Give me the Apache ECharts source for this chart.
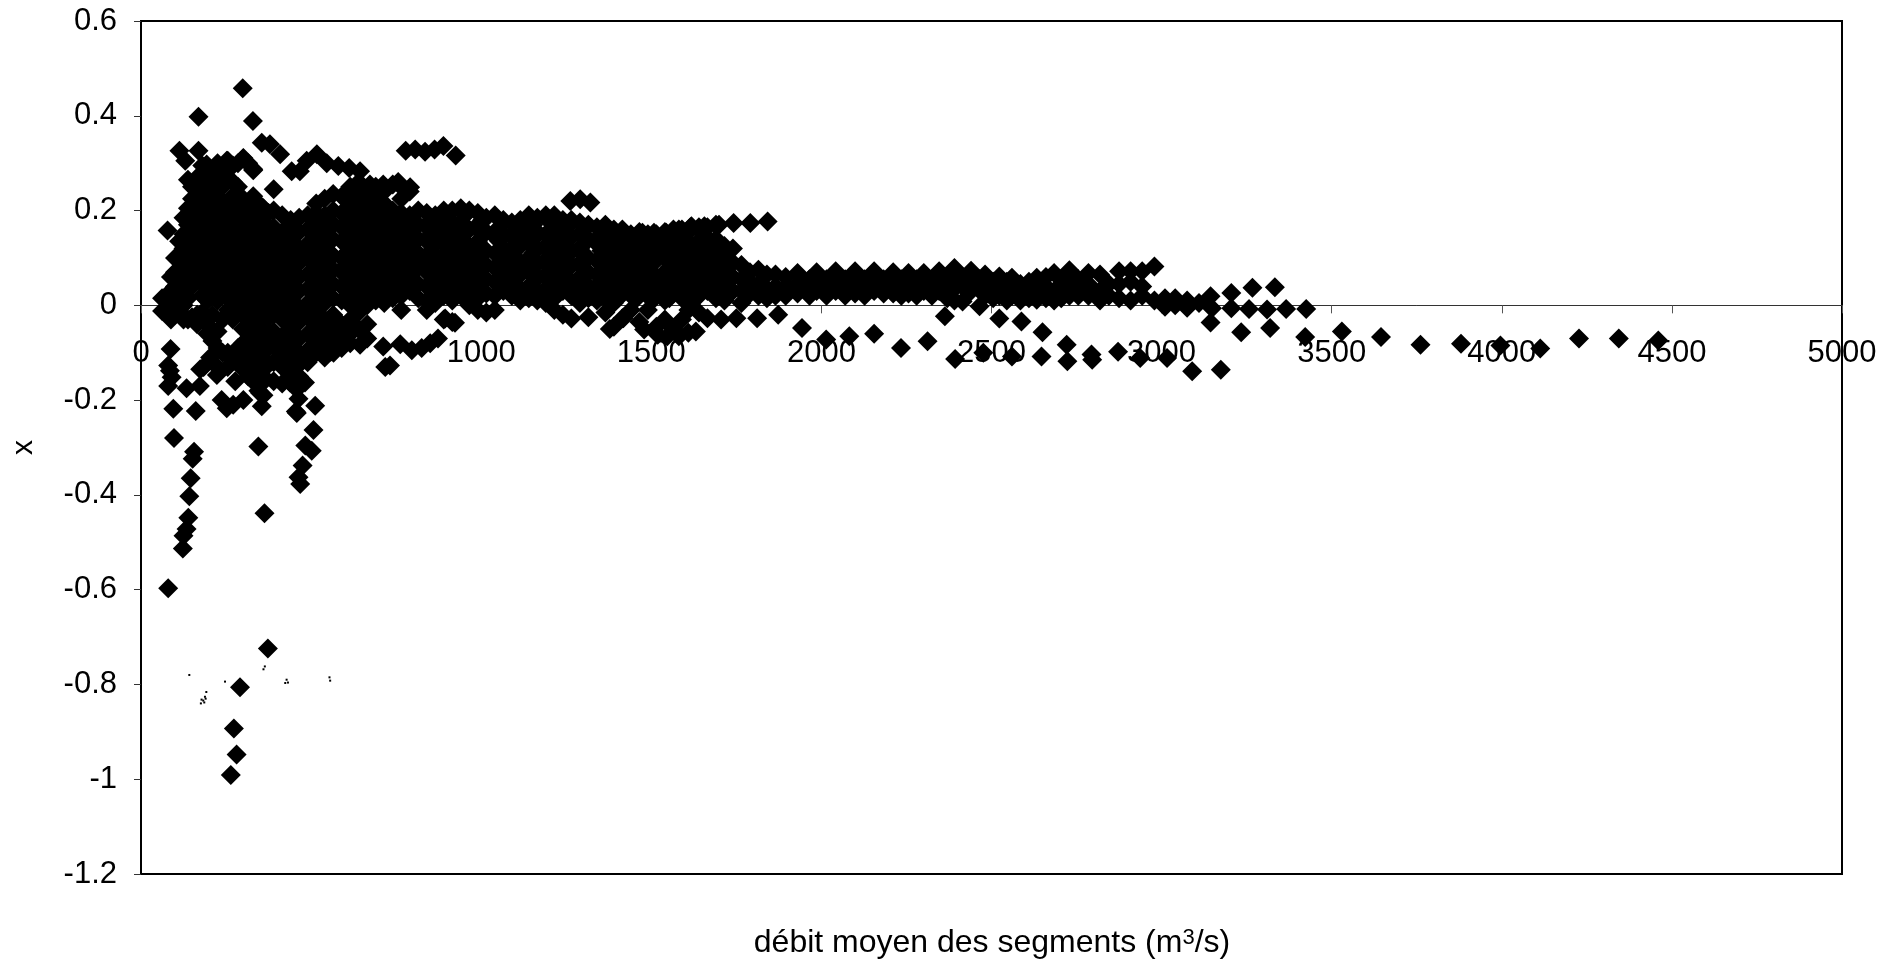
<!DOCTYPE html>
<html><head><meta charset="utf-8">
<style>html,body{margin:0;padding:0;background:#fff}#c{width:1903px;height:964px}</style>
<script src="https://cdn.jsdelivr.net/npm/echarts@6/dist/echarts.min.js"></script>
</head><body><div id="c"></div>
<script>
const xTitle = 'débit moyen des segments';
const yTitle = 'x';
// each row: flow, then the x values read at that flow
const columnsLow = [
[62,.015,-.012],[88,.06,.03,-.005,-.03],[100,.1,.07,.04,.012,-.02],[112,.135,.105,.075,.045,.015,-.015],
[125,.185,.15,.12,.09,.06,.03,0,-.03],[138,.265,.205,.17,.14,.11,.08,.05,.015,-.03],
[150,.25,.225,.19,.16,.13,.1,.065,.04,-.025],[165,.27,.24,.21,.175,.15,.12,.075,.055,-.02,-.04],
[180,.295,.26,.23,.2,.17,.14,.105,.08,.05,.02,-.015],[195,.29,.25,.22,.19,.16,.125,.095,.065,.035,.01,-.04,-.06],
[210,.275,.24,.205,.18,.15,.115,.085,.055,.025,-.02,-.075],[225,.3,.26,.23,.195,.165,.135,.105,.07,.04,.01,-.055,-.09],
[240,.285,.25,.215,.185,.155,.12,.09,.06,.03,-.03,-.1],[255,.305,.27,.2,.17,.14,.11,.08,.05,.02,-.01,-.1,-.13],
[270,.295,.26,.23,.195,.16,.13,.1,.065,.035,.005,-.03,-.115],[285,.3,.25,.215,.185,.15,.12,.09,.06,.03,-.005,-.09,-.12],
[300,.31,.225,.2,.17,.14,.105,.075,.045,.015,-.02,-.05,-.08,-.11,-.135],[315,.3,.21,.185,.155,.125,.09,.06,.03,0,-.03,-.07,-.1,-.15],
[330,.285,.23,.2,.17,.14,.11,.08,.045,.015,-.015,-.045,-.09,-.125,-.16],[345,.215,.185,.155,.125,.095,.065,.03,0,-.03,-.06,-.105,-.14,-.18],
[360,.205,.175,.145,.11,.08,.05,.02,-.01,-.045,-.075,-.115,-.15,-.19],[375,.195,.16,.13,.1,.07,.035,.005,-.025,-.06,-.09,-.125],
[390,.2,.165,.135,.105,.07,.04,.01,-.02,-.055,-.085,-.12,-.16],[415,.19,.155,.125,.09,.06,.03,0,-.03,-.065,-.1,-.13,-.165],
[440,.18,.17,.14,.11,.075,.045,.015,-.015,-.05,-.08,-.115,-.145],[465,.185,.155,.12,.09,.06,.03,-.005,-.035,-.07,-.1,-.125,-.15],
[490,.19,.16,.13,.1,.065,.035,.005,-.025,-.06,-.095,-.12],[515,.195,.215,.175,.145,.115,.08,.05,.02,-.01,-.04,-.075,-.1],
[540,.225,.19,.16,.13,.095,.065,.035,.005,-.03,-.06,-.085,-.11],[565,.235,.2,.17,.14,.105,.075,.045,.015,-.02,-.05,-.075],
[590,.23,.195,.165,.135,.1,.07,.04,.01,-.04,-.065,-.09],[615,.215,.25,.185,.155,.12,.09,.06,.03,0,-.03,-.06,-.08],
[640,.26,.23,.2,.17,.14,.105,.075,.045,.015,-.015,-.05],[665,.24,.21,.18,.15,.12,.09,.055,.025,0,-.04,-.07],
[690,.25,.225,.195,.16,.13,.1,.07,.04,.01],[715,.24,.215,.18,.15,.12,.09,.06,.03,.005],
[740,.255,.2,.165,.135,.105,.075,.045,.015],[765,.25,.225,.195,.17,.14,.11,.08,.05,.02,-.01],
[790,.24,.19,.155,.125,.095,.06,.03]
];
const columnsMid = [
[815,.2,.17,.14,.11,.08,.045,.015],[840,.195,.165,.135,.1,.07,.04,.01,-.01],[865,.19,.16,.13,.095,.06,.03,.005],
[890,.2,.17,.14,.105,.075,.045,.02,-.03],[915,.2,.165,.13,.1,.07,.04,.01,-.035],[940,.205,.175,.145,.11,.08,.05,.02],
[965,.2,.16,.125,.09,.06,.03,0],[990,.195,.17,.135,.105,.075,.045,.015,-.01],[1015,.185,.155,.115,.085,.055,.025,-.015],
[1040,.19,.145,.11,.08,.05,.02,-.01],[1065,.18,.15,.12,.09,.06,.03],[1090,.175,.145,.11,.08,.05,.02],
[1115,.18,.15,.125,.09,.065,.035,.01],[1140,.19,.16,.13,.1,.07,.04,.015],[1165,.185,.155,.12,.09,.06,.03,.01],
[1190,.19,.15,.125,.095,.065,.035,.005],[1215,.19,.16,.13,.1,.07,.04,.015,-.01],[1240,.18,.15,.12,.09,.06,.03,-.02],
[1265,.18,.145,.115,.085,.05,.02,-.028],[1290,.175,.15,.12,.09,.06,.03,.005],[1315,.17,.14,.1,.07,.04,.015,-.025],
[1340,.165,.13,.095,.065,.035,.01],[1365,.17,.14,.11,.075,.045,.015,-.015],[1390,.16,.125,.09,.06,.03,.005,-.045],
[1415,.16,.13,.1,.065,.035,-.027],[1440,.15,.12,.085,.055,.025,-.01],[1465,.155,.125,.09,.06,.03,-.035],
[1490,.15,.11,.08,.05,.02,-.01],[1515,.15,.12,.095,.06,.03,-.045],[1540,.155,.13,.1,.07,.04,.01,-.03],
[1565,.16,.125,.09,.055,.025,-.05],[1590,.16,.135,.105,.075,.045,.015,-.03],[1615,.165,.13,.095,.065,.035,.005],
[1640,.165,.135,.11,.08,.05,.02,-.015],[1665,.165,.125,.09,.06,.03],[1690,.17,.14,.11,.075,.045,.015],
[1715,.125,.1,.07,.04,.01],[1740,.12,.09,.06,.03],[1765,.085,.055,.03,.005],[1790,.07,.05,.025],[1815,.075,.045,.02],
[1840,.065,.035,.015],[1865,.065,.04,.02]
];
const columnsInner = [
[403,.15,.12,.085,.055,.022],[453,.16,.125,.095,.06,.03],[503,.17,.135,.105,.075,.04],[553,.18,.145,.112,.08,.05],
[603,.175,.14,.11,.085,.05],[653,.195,.165,.13,.1,.07],[703,.21,.175,.145,.11,.08,.05],[753,.18,.15,.12,.09,.06,.03],
[803,.175,.14,.11,.075,.045],[853,.18,.15,.115,.085,.05],[903,.185,.15,.12,.09,.06,.028],[953,.19,.155,.125,.095,.065,.035],
[1003,.18,.15,.12,.09,.06,.03],[1053,.165,.135,.105,.07,.04],[1103,.16,.13,.1,.07,.04],[1153,.17,.14,.11,.08,.05],
[1203,.175,.14,.11,.08,.05,.02],[1253,.165,.135,.105,.075,.045],[1303,.16,.13,.105,.075,.05,.02],[1353,.15,.115,.085,.05,.02],
[1403,.145,.11,.08,.05,.015],[1453,.14,.105,.075,.04,.012],[1503,.135,.105,.07,.04,.01],[1553,.145,.11,.08,.045,.015],
[1603,.15,.12,.09,.06,.03],[1653,.15,.12,.095,.065,.035],[1703,.13,.095,.06,.03]
];
const columnsHigh = [
[1895,.06,.04,.02],[1930,.068,.045,.025],[1965,.055,.035,.02],[1986,.07,.045,.03],[2015,.055,.04,.02],[2042,.072,.05,.03],
[2070,.055,.04,.02],[2099,.072,.05,.025],[2127,.055,.035,.02],[2155,.072,.05,.03],[2183,.055,.035,.025],[2211,.07,.05,.025],
[2235,.055,.04,.02],[2256,.068,.045,.025],[2280,.055,.035,.02],[2301,.068,.05,.03],[2325,.055,.04,.02],[2346,.072,.05,.03],
[2370,.06,.04,.015],[2391,.079,.055,.035,.01],[2415,.06,.04,.008],[2440,.073,.05,.03],[2465,.055,.035,-.002],[2481,.065,.045,.02],
[2505,.05,.03,.015],[2523,.061,.04,.02],[2545,.05,.03,.01],[2560,.058,.04,.02],[2585,.045,.03,.01],[2610,.05,.035,.015],
[2633,.058,.03,.012],[2660,.06,.04,.015],[2684,.068,.03,.01],[2705,.055,.03,.015],[2729,.074,.05,.02],[2755,.055,.035,.02],
[2785,.068,.045,.02],[2819,.065,.03,.01],[2845,.045,.02],[2875,.072,.045,.015],[2909,.072,.05,.01],[2943,.072,.04,.02],
[2979,.082,.01],[3010,.015,-.003],[3040,.015,0],[3075,.01,-.005],[3110,.005]
];
const upperPoints = [
[299,.458],[169,.398],[329,.389],[778,.326],[806,.329],[835,.324],[863,.329],[889,.336],[925,.316],
[113,.326],[169,.326],[130,.305],[193,.297],[252,.305],[301,.311],[330,.287],[355,.343],[379,.34],[409,.319],[443,.283],[467,.283],
[517,.319],[487,.305],[546,.3],[580,.294],[612,.29],[644,.283],[673,.255],[712,.255],[756,.26],[791,.249],[390,.245],[78,.158],
[1262,.22],[1291,.224],[1321,.217],[1842,.177],[1791,.174],[1742,.174],[1699,.17],[1656,.167],[1618,.167],[1581,.16],[1544,.153],[1508,.153],[1474,.153]
];
const lowerPointsLeft = [
[87,-.092],[80,-.127],[85,-.138],[90,-.152],[80,-.17],[134,-.175],[173,-.17],[95,-.218],[161,-.223],[237,-.2],[252,-.217],[271,-.21],[301,-.2],
[355,-.213],[458,-.227],[512,-.212],[463,-.197],[482,-.163],[277,-.16],[223,-.147],[184,-.13],[203,-.11],[174,-.135],[213,-.122],[350,-.185],
[355,-.165],[345,-.145],[438,-.163],[458,-.177],[566,-.1],[644,-.083],[712,-.087],[732,-.127],[718,-.13],[762,-.082],[796,-.095],[825,-.09],[850,-.08],[873,-.07],
[894,-.028],[923,-.037],[97,-.28],[156,-.309],[152,-.324],[146,-.365],[142,-.403],[139,-.448],[134,-.472],[125,-.486],[123,-.513],[80,-.597],
[345,-.298],[363,-.439],[373,-.724],[291,-.806],[273,-.893],[281,-.948],[264,-.991],[507,-.263],[483,-.296],[502,-.307],[475,-.338],[463,-.363],[468,-.377],[455,-.224]
];
const lowerPointsRight = [
[2363,-.023],[2523,-.028],[2588,-.034],[2650,-.057],[2721,-.083],[2647,-.108],[2723,-.118],[2794,-.104],[2796,-.115],[2872,-.098],[2937,-.111],[3016,-.111],[3090,-.139],
[2393,-.113],[2476,-.1],[2560,-.108],[1873,-.02],[1811,-.027],[1943,-.048],[2014,-.072],[2082,-.065],[2155,-.06],[2234,-.09],[2312,-.076],
[1378,-.05],[1418,-.027],[1479,-.051],[1519,-.062],[1547,-.065],[1581,-.065],[1609,-.058],[1631,-.055],[1665,-.027],[1705,-.03],[1750,-.027],[1609,-.01],
[3144,.019],[3205,.026],[3267,.037],[3333,.038],[3148,-.006],[3205,-.006],[3257,-.008],[3310,-.009],[3366,-.008],[3425,-.008],[3144,-.036],[3234,-.057],[3319,-.048],
[3422,-.067],[3530,-.055],[3645,-.067],[3761,-.083],[3880,-.081],[3996,-.085],[4113,-.091],[4227,-.07],[4344,-.07],[4460,-.074],[3174,-.136]
];
const specks = [[142,-.78],[183,-.834],[186,-.838],[178,-.832],[190,-.83],[176,-.84],[188,-.826],[192,-.816],[247,-.794],[360,-.768],[364,-.762],[428,-.79],[432,-.796],[424,-.797],[554,-.785],[556,-.792]];

const fromColumns = rows => rows.flatMap(([flow, ...ys]) => ys.map(y => [flow, y]));
const points = [...fromColumns(columnsLow), ...fromColumns(columnsMid), ...fromColumns(columnsInner), ...fromColumns(columnsHigh), ...upperPoints, ...lowerPointsLeft, ...lowerPointsRight];

const font = '"Liberation Sans", Arial, sans-serif';
echarts.init(document.getElementById('c')).setOption({
  animation: false,
  backgroundColor: '#fff',
  title: {
    text: xTitle + ' (m{s|3}/s)', left: 987, top: 922, textAlign: 'center',
    textStyle: { color: '#000', fontFamily: font, fontSize: 32, fontWeight: 'normal',
      rich: { s: { fontFamily: font, fontSize: 22, color: '#000', verticalAlign: 'top', lineHeight: 22, padding: [0,0,12,0] } } }
  },
  grid: { left: 141, right: 61, top: 21, bottom: 90, show: true, borderColor: '#000', borderWidth: 2, backgroundColor: 'transparent', outerBoundsMode: 'none' },
  xAxis: { type: 'value', min: 0, max: 5000, interval: 500,
    axisLine: { onZero: true, lineStyle: { color: '#333', width: 1 } },
    axisTick: { length: 8, lineStyle: { color: '#555' } },
    axisLabel: { color: '#000', fontFamily: font, fontSize: 31, margin: -536, hideOverlap: false, showMinLabel: true, showMaxLabel: true, formatter: v => String(v) },
    splitLine: { show: false } },
  yAxis: { type: 'value', min: -1.2, max: 0.6, interval: 0.2,
    name: yTitle, nameLocation: 'middle', nameRotate: 90, nameGap: 102,
    nameTextStyle: { color: '#000', fontFamily: font, fontSize: 30 },
    axisLine: { show: true, onZero: false, lineStyle: { color: '#000', width: 2 } },
    axisTick: { show: true, length: 7, lineStyle: { color: '#333' } },
    axisLabel: { color: '#000', fontFamily: font, fontSize: 31, margin: 24 },
    splitLine: { show: false } },
  series: [
    { type: 'scatter', symbol: 'diamond', symbolSize: 20, data: points, itemStyle: { color: '#000', opacity: 1 }, silent: true },
    { type: 'scatter', symbol: 'rect', symbolSize: 2, data: specks, itemStyle: { color: '#000', opacity: 1 }, silent: true }
  ]
});
</script></body></html>
